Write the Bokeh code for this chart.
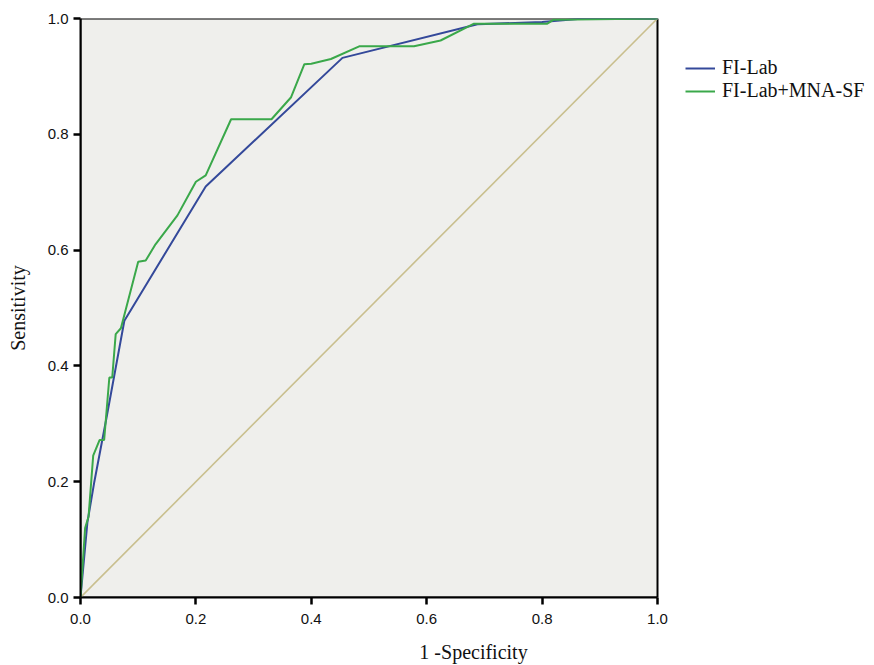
from bokeh.plotting import figure
from bokeh.models import (Legend, LegendItem, FixedTicker, Range1d,
                          CustomJSTickFormatter, BoxAnnotation)
from bokeh.embed import file_html
from bokeh.resources import INLINE

# FI-Lab ROC curve
fi_fpr = [0.0, 0.012, 0.024, 0.045, 0.076, 0.217, 0.454, 0.688, 0.80, 0.872, 1.0]
fi_tpr = [0.0, 0.13, 0.20, 0.31, 0.478, 0.710, 0.932, 0.990, 0.994, 1.0, 1.0]

# FI-Lab+MNA-SF ROC curve
mna_fpr = [0.0, 0.008, 0.014, 0.022, 0.033, 0.041, 0.050, 0.055, 0.061, 0.070,
           0.100, 0.113, 0.130, 0.168, 0.190, 0.200, 0.217, 0.261, 0.331, 0.365,
           0.388, 0.400, 0.434, 0.483, 0.578, 0.624, 0.682, 0.728, 0.809, 0.820, 1.0]
mna_tpr = [0.0, 0.12, 0.14, 0.245, 0.272, 0.272, 0.380, 0.380, 0.455, 0.465,
           0.580, 0.582, 0.610, 0.660, 0.700, 0.718, 0.729, 0.826, 0.826, 0.864,
           0.921, 0.922, 0.930, 0.952, 0.952, 0.962, 0.991, 0.991, 0.991, 0.998, 1.0]

# Reference diagonal
ref_x = [0.0, 1.0]
ref_y = [0.0, 1.0]

ticks = [0.0, 0.2, 0.4, 0.6, 0.8, 1.0]
series_names = ["FI-Lab", "FI-Lab+MNA-SF"]
series_colors = ["#34499a", "#3aa84a"]

FRAME_W = 866 - 80          # frame spans to the right edge (legend lives inside it)
X_END = FRAME_W / 577.0      # 577 px per unit for the 0..1 plot box

p = figure(width=866, height=665, output_backend="svg", toolbar_location=None,
           x_range=Range1d(0, X_END), y_range=Range1d(0, 1),
           min_border_left=80, min_border_right=0, min_border_top=18,
           min_border_bottom=68)

p.background_fill_color = "white"
p.border_fill_color = "white"
p.outline_line_color = None
p.xgrid.visible = False
p.ygrid.visible = False

# grey plotting box 0..1 x 0..1 with black frame
p.add_layout(BoxAnnotation(left=0, right=1, bottom=0, top=1,
                           fill_color="#efefec", fill_alpha=1.0,
                           line_color="black", line_alpha=1.0, line_width=2,
                           level="underlay"))

p.line(ref_x, ref_y, line_color="#c9bf8e", line_width=1.6)
r1 = p.line(fi_fpr, fi_tpr, line_color=series_colors[0], line_width=2)
r2 = p.line(mna_fpr, mna_tpr, line_color=series_colors[1], line_width=2)

for ax in (p.xaxis[0], p.yaxis[0]):
    ax.ticker = FixedTicker(ticks=ticks)
    ax.bounds = (0, 1)
    ax.minor_tick_line_color = None
    ax.major_tick_in = 0
    ax.major_tick_out = 7
    ax.major_tick_line_width = 2.5
    ax.major_tick_line_color = "black"
    ax.major_tick_line_alpha = 1.0
    ax.axis_line_width = 2
    ax.axis_line_color = "black"
    ax.major_label_text_font = "Liberation Sans"
    ax.major_label_text_font_size = "15px"
    ax.major_label_text_color = "#111111"
    ax.axis_label_text_font = "Liberation Serif"
    ax.axis_label_text_font_size = "20px"
    ax.axis_label_text_font_style = "normal"
    ax.axis_label_text_color = "#111111"
    ax.formatter = CustomJSTickFormatter(code="return tick.toFixed(1);")

p.xaxis[0].major_label_standoff = 9
p.yaxis[0].major_label_standoff = 5
p.xaxis[0].axis_label = "1 -Specificity"
p.yaxis[0].axis_label = "Sensitivity"
p.xaxis[0].axis_label_standoff = 14
p.yaxis[0].axis_label_standoff = 16

legend = Legend(items=[LegendItem(label=series_names[0], renderers=[r1]),
                       LegendItem(label=series_names[1], renderers=[r2])],
                location=(605, 495), orientation="vertical",
                label_text_font="Liberation Serif", label_text_font_size="20px",
                label_text_color="#111111",
                glyph_width=30, glyph_height=20, label_height=20, spacing=0,
                padding=0, margin=0, label_standoff=7,
                border_line_color=None, background_fill_alpha=0)
p.add_layout(legend, "center")

open("out.html", "w").write(file_html(p, INLINE))
